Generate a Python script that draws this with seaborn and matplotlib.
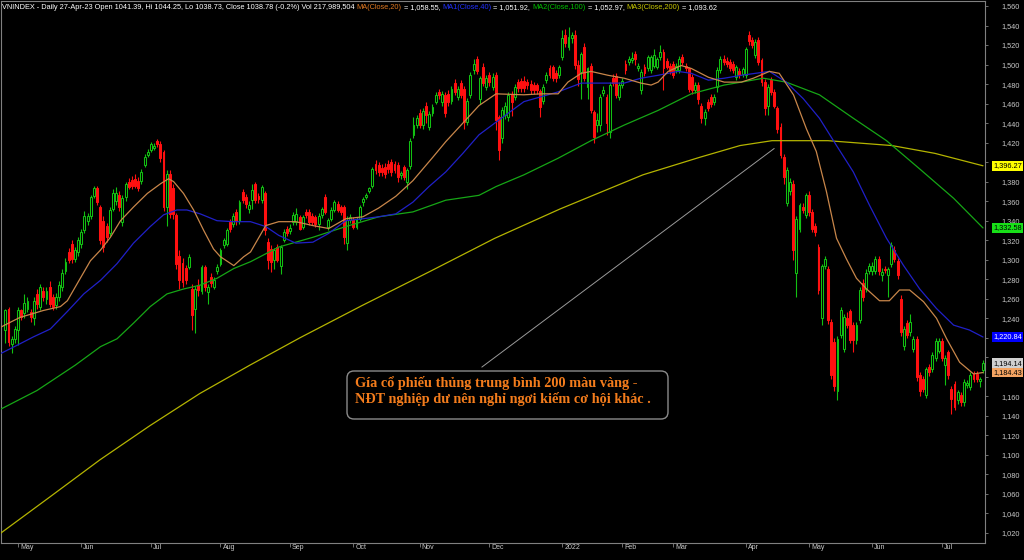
import matplotlib
matplotlib.use("Agg")
import matplotlib.pyplot as plt
import matplotlib.patches as mpatches
import matplotlib.transforms as mtransforms
import numpy as np
import pandas as pd
import seaborn as sns

# daily candles, late Apr 2021 -> Jul 2022 (one line per month)
opens = [
    1228, 1250, 1214, 1219,
    1228, 1248, 1245, 1250, 1246, 1240, 1265, 1252, 1268, 1260, 1272, 1262, 1254, 1262, 1272, 1288, 1308, 1316, 1301, 1308,
    1316, 1330, 1340, 1345, 1365, 1374, 1354, 1340, 1335, 1327, 1352, 1360, 1366, 1339, 1364, 1380, 1382, 1383, 1381, 1381, 1397, 1407,
    1412, 1414, 1422, 1419, 1410, 1354, 1388, 1373, 1346, 1304, 1297, 1292, 1293, 1270, 1250, 1274, 1268, 1293, 1267, 1282, 1272, 1288,
    1296, 1315, 1316, 1339, 1337, 1349, 1340, 1369, 1364, 1352, 1361, 1378, 1365, 1361, 1368, 1318, 1311, 1300, 1313, 1294, 1320, 1332,
    1329, 1339, 1339, 1344, 1334, 1349, 1349, 1345, 1344, 1337, 1346, 1364, 1334, 1342, 1351, 1357, 1354, 1354, 1317, 1341,
    1341, 1334, 1342, 1359, 1364, 1370, 1376, 1398, 1397, 1394, 1395, 1398, 1400, 1398, 1397, 1387, 1395, 1380, 1396, 1428, 1438,
    1450, 1438, 1458, 1436, 1450, 1462, 1472, 1462, 1469, 1470, 1463, 1481, 1467, 1481, 1475, 1441, 1469, 1494, 1506, 1465, 1498, 1477,
    1489, 1477, 1489, 1446, 1425, 1448, 1446, 1470, 1467, 1482, 1483, 1483, 1482, 1480, 1479, 1479, 1473, 1463, 1484, 1496, 1498, 1491, 1489,
    1508, 1530, 1518, 1527, 1530, 1500, 1492, 1518, 1477, 1499, 1451, 1438, 1438, 1471, 1467, 1431, 1486, 1488, 1467,
    1479, 1501, 1503, 1505, 1511, 1496, 1474, 1498, 1496, 1494, 1499, 1498, 1508, 1513, 1504, 1499,
    1501, 1494, 1494, 1508, 1499, 1496, 1487, 1474, 1479, 1458, 1445, 1462, 1467, 1462, 1477, 1494, 1506, 1504, 1503, 1501, 1487, 1493, 1490,
    1489, 1530, 1525, 1510, 1525, 1505, 1482, 1458, 1484, 1472, 1455, 1436, 1405, 1358, 1370, 1378, 1286, 1332, 1354, 1346,
    1366, 1349, 1335, 1313, 1240, 1294, 1291, 1236, 1216, 1165, 1223, 1209, 1240, 1247, 1233, 1218, 1238, 1276, 1270, 1288,
    1288, 1288, 1301, 1284, 1291, 1284, 1296, 1310, 1299, 1260, 1212, 1235, 1226, 1209, 1219, 1182, 1178, 1161, 1190, 1188, 1199, 1207,
    1217, 1192, 1205, 1168, 1173, 1156, 1161, 1154, 1172, 1170, 1183, 1183, 1176, 1187,
]
highs = [
    1250, 1252, 1222, 1232,
    1252, 1250, 1265, 1262, 1250, 1262, 1270, 1275, 1272, 1272, 1278, 1265, 1266, 1278, 1290, 1302, 1312, 1320, 1313, 1323,
    1331, 1350, 1348, 1366, 1376, 1376, 1356, 1345, 1338, 1354, 1372, 1375, 1370, 1366, 1380, 1384, 1386, 1388, 1385, 1393, 1408, 1413,
    1421, 1420, 1424, 1422, 1412, 1392, 1392, 1378, 1348, 1310, 1302, 1295, 1306, 1275, 1273, 1280, 1295, 1295, 1275, 1286, 1282, 1296,
    1312, 1322, 1333, 1342, 1348, 1352, 1361, 1372, 1367, 1360, 1378, 1380, 1368, 1377, 1370, 1322, 1315, 1312, 1316, 1315, 1331, 1335,
    1337, 1349, 1353, 1346, 1346, 1352, 1352, 1348, 1346, 1348, 1354, 1367, 1343, 1354, 1361, 1360, 1356, 1356, 1345, 1347,
    1344, 1344, 1356, 1364, 1368, 1375, 1395, 1402, 1400, 1398, 1399, 1402, 1403, 1401, 1400, 1391, 1397, 1394, 1425, 1446, 1448,
    1454, 1455, 1462, 1452, 1460, 1472, 1475, 1473, 1472, 1474, 1478, 1485, 1478, 1484, 1478, 1466, 1492, 1506, 1509, 1488, 1502, 1489,
    1492, 1491, 1492, 1448, 1456, 1462, 1472, 1473, 1480, 1485, 1486, 1488, 1485, 1484, 1482, 1481, 1475, 1480, 1492, 1500, 1500, 1494, 1500,
    1535, 1536, 1538, 1533, 1535, 1505, 1513, 1522, 1498, 1502, 1453, 1450, 1470, 1478, 1470, 1482, 1490, 1491, 1482,
    1486, 1505, 1509, 1513, 1514, 1502, 1495, 1501, 1510, 1510, 1516, 1508, 1520, 1516, 1507, 1502,
    1504, 1502, 1509, 1511, 1502, 1498, 1490, 1482, 1482, 1461, 1454, 1465, 1470, 1470, 1497, 1509, 1510, 1508, 1506, 1504, 1500, 1496, 1498,
    1518, 1534, 1528, 1526, 1528, 1507, 1485, 1480, 1487, 1475, 1458, 1440, 1408, 1395, 1384, 1382, 1345, 1358, 1358, 1368,
    1370, 1352, 1338, 1316, 1296, 1304, 1294, 1239, 1220, 1222, 1252, 1244, 1246, 1250, 1236, 1236, 1272, 1280, 1290, 1297,
    1298, 1304, 1304, 1292, 1294, 1293, 1318, 1314, 1302, 1264, 1232, 1238, 1244, 1222, 1222, 1185, 1181, 1190, 1193, 1205, 1220, 1220,
    1220, 1202, 1208, 1171, 1176, 1167, 1164, 1178, 1177, 1185, 1186, 1186, 1180, 1197,
]
lows = [
    1215, 1212, 1204, 1215,
    1213, 1238, 1240, 1246, 1236, 1233, 1250, 1248, 1258, 1255, 1252, 1248, 1250, 1258, 1268, 1285, 1297, 1297, 1298, 1304,
    1312, 1327, 1336, 1342, 1363, 1356, 1316, 1308, 1318, 1324, 1350, 1356, 1350, 1335, 1360, 1372, 1372, 1374, 1370, 1378, 1395, 1405,
    1410, 1412, 1416, 1400, 1350, 1335, 1343, 1342, 1290, 1270, 1272, 1275, 1290, 1228, 1225, 1263, 1265, 1268, 1255, 1272, 1270, 1285,
    1294, 1312, 1314, 1328, 1334, 1336, 1337, 1358, 1353, 1348, 1352, 1358, 1358, 1358, 1325, 1290, 1287, 1290, 1298, 1285, 1318, 1324,
    1326, 1336, 1336, 1330, 1331, 1343, 1336, 1336, 1334, 1330, 1343, 1347, 1330, 1340, 1349, 1349, 1346, 1316, 1310, 1338,
    1331, 1332, 1340, 1355, 1362, 1368, 1374, 1388, 1386, 1386, 1384, 1389, 1386, 1389, 1380, 1383, 1382, 1372, 1393, 1425, 1435,
    1435, 1434, 1440, 1433, 1447, 1460, 1465, 1458, 1446, 1458, 1460, 1469, 1464, 1466, 1434, 1438, 1466, 1490, 1490, 1460, 1478, 1474,
    1478, 1474, 1433, 1402, 1420, 1444, 1442, 1447, 1464, 1472, 1472, 1472, 1475, 1470, 1470, 1470, 1446, 1460, 1481, 1486, 1483, 1482, 1486,
    1505, 1518, 1515, 1522, 1495, 1478, 1465, 1483, 1465, 1450, 1420, 1431, 1432, 1468, 1428, 1425, 1478, 1466, 1464,
    1476, 1490, 1500, 1502, 1500, 1493, 1470, 1488, 1493, 1491, 1496, 1495, 1505, 1474, 1495, 1490,
    1486, 1491, 1491, 1500, 1493, 1472, 1470, 1471, 1460, 1440, 1438, 1452, 1457, 1459, 1472, 1491, 1500, 1498, 1493, 1491, 1484, 1486, 1487,
    1486, 1520, 1517, 1507, 1500, 1478, 1448, 1448, 1469, 1455, 1430, 1404, 1378, 1355, 1366, 1300, 1262, 1328, 1348, 1343,
    1345, 1328, 1324, 1265, 1233, 1290, 1234, 1178, 1166, 1156, 1220, 1205, 1230, 1215, 1205, 1214, 1235, 1258, 1267, 1285,
    1284, 1285, 1284, 1278, 1286, 1262, 1293, 1298, 1280, 1222, 1208, 1220, 1222, 1205, 1176, 1160, 1164, 1158, 1181, 1185, 1196, 1204,
    1196, 1172, 1178, 1142, 1146, 1152, 1150, 1150, 1169, 1167, 1175, 1175, 1170, 1184,
]
closes = [
    1248, 1216, 1219, 1229,
    1248, 1241, 1256, 1258, 1241, 1258, 1255, 1272, 1262, 1268, 1255, 1252, 1262, 1274, 1286, 1298, 1300, 1301, 1310, 1320,
    1328, 1345, 1345, 1364, 1374, 1359, 1320, 1313, 1323, 1351, 1368, 1368, 1354, 1363, 1378, 1375, 1376, 1376, 1374, 1390, 1405, 1410,
    1419, 1417, 1419, 1404, 1354, 1388, 1347, 1347, 1296, 1279, 1277, 1279, 1303, 1243, 1270, 1269, 1293, 1272, 1272, 1276, 1279, 1293,
    1310, 1320, 1330, 1332, 1345, 1340, 1359, 1361, 1357, 1356, 1371, 1361, 1362, 1375, 1330, 1300, 1298, 1310, 1300, 1313, 1328, 1327,
    1333, 1346, 1347, 1332, 1344, 1346, 1339, 1339, 1337, 1345, 1352, 1349, 1341, 1351, 1359, 1351, 1349, 1323, 1341, 1344,
    1334, 1342, 1354, 1362, 1366, 1373, 1393, 1392, 1390, 1390, 1388, 1393, 1390, 1392, 1385, 1389, 1385, 1392, 1422, 1438, 1445,
    1438, 1452, 1448, 1449, 1457, 1469, 1469, 1470, 1450, 1462, 1475, 1472, 1475, 1469, 1441, 1463, 1489, 1501, 1493, 1486, 1481, 1486,
    1482, 1487, 1443, 1412, 1453, 1458, 1469, 1462, 1477, 1476, 1476, 1476, 1479, 1474, 1474, 1474, 1456, 1477, 1489, 1489, 1486, 1486, 1498,
    1527, 1522, 1528, 1530, 1500, 1485, 1511, 1486, 1496, 1453, 1426, 1443, 1467, 1474, 1440, 1479, 1481, 1469, 1479,
    1483, 1494, 1506, 1507, 1506, 1499, 1492, 1491, 1508, 1508, 1510, 1506, 1513, 1496, 1498, 1493,
    1489, 1499, 1506, 1503, 1496, 1475, 1474, 1479, 1465, 1445, 1451, 1455, 1460, 1467, 1494, 1506, 1503, 1501, 1496, 1494, 1498, 1489, 1495,
    1516, 1524, 1520, 1523, 1503, 1482, 1455, 1477, 1472, 1458, 1434, 1407, 1385, 1392, 1380, 1310, 1342, 1356, 1351, 1366,
    1349, 1332, 1328, 1269, 1294, 1301, 1238, 1182, 1171, 1219, 1248, 1241, 1233, 1218, 1218, 1233, 1269, 1262, 1286, 1294,
    1294, 1301, 1288, 1287, 1289, 1291, 1315, 1301, 1284, 1226, 1229, 1223, 1236, 1219, 1180, 1165, 1168, 1188, 1185, 1202, 1217, 1217,
    1199, 1199, 1182, 1157, 1149, 1164, 1154, 1175, 1174, 1182, 1178, 1178, 1178, 1194.14,
]

# exchange holidays (no candle)
holidays = ["2021-04-30", "2021-05-03", "2021-09-02", "2021-09-03", "2022-01-03", "2022-01-31",
            "2022-02-01", "2022-02-02", "2022-02-03", "2022-02-04", "2022-04-11", "2022-05-02", "2022-05-03"]

# moving averages: trading-day index -> value
ma20_day = [-1.4, 1.6, 4.7, 8.9, 12, 17.4, 19.6, 22.8, 26.9, 30.1, 33.2, 36.4, 40.5, 44.9, 49.1, 51.6, 53.2, 56.3,
            59.5, 62.7, 65.8, 68, 72.2, 75.3, 77.5, 82.3, 86.4, 91.8, 97.2, 102.2, 107.6, 113, 118, 123.4, 128.8,
            135.1, 139.2, 144.6, 149.7, 155.1, 163.9, 169.3, 174.7, 177.8, 182, 185.1, 190.5, 195.6, 200.9, 204.1,
            206.3, 209.5, 213.6, 216.8, 222.2, 227.2, 232.6, 236.4, 241.5, 244.6, 249.1, 253.2, 256.3, 259.5, 262.7,
            265.8, 269, 272.2, 276.3, 279.4, 282.6, 285.8, 290.2, 294.3, 297.5, 301.6, 306, 309]
ma20_val = [1231, 1236, 1241, 1245, 1248, 1252, 1258, 1276, 1299, 1310, 1323, 1340, 1354, 1368, 1378, 1383, 1380, 1368,
            1351, 1330, 1311, 1303, 1294, 1303, 1308, 1335, 1339, 1339, 1335, 1332, 1342, 1344, 1353, 1365, 1381,
            1405, 1421, 1440, 1458, 1470, 1469, 1470, 1470, 1482, 1491, 1493, 1489, 1486, 1481, 1479,
            1482, 1493, 1499, 1496, 1487, 1482, 1482, 1486, 1493, 1491, 1469, 1434, 1411, 1370, 1322,
            1301, 1281, 1270, 1258, 1258, 1269, 1269, 1257, 1240, 1219, 1195, 1183, 1184.43]

ma40_day = [-1.4, 4.7, 8.9, 14.2, 19.6, 24.8, 30.1, 35.3, 40.5, 45.8, 50, 54.2, 57.4, 61.6, 66.9, 72.2, 77.5, 82.3,
            86.4, 91.8, 97.2, 102.2, 107.6, 113, 118, 123.4, 128.8, 133.9, 139.2, 144.6, 149.7, 155.1, 163.9, 174.7,
            182, 190.5, 195.6, 200.9, 206.3, 212.6, 216.8, 222.2, 227.2, 232.6, 241.5, 246.8, 252.2, 257.3, 262.7,
            268, 273.1, 278.5, 283.9, 289, 294.3, 299.7, 304.7, 309]
ma40_val = [1204, 1214, 1221, 1229, 1247, 1265, 1279, 1296, 1317, 1334, 1346, 1351, 1351, 1347, 1340, 1339, 1339, 1334,
            1325, 1317, 1318, 1327, 1340, 1342, 1344, 1347, 1359, 1375, 1390, 1409, 1428, 1441, 1462, 1472,
            1481, 1481, 1481, 1486, 1489, 1493, 1491, 1484, 1486, 1489, 1493, 1482, 1465, 1445, 1417,
            1390, 1356, 1322, 1294, 1270, 1250, 1233, 1228, 1220.84]

ma100_day = [-1.4, 10, 22.1, 30.1, 35.3, 40.5, 45.8, 51.1, 56.3, 61.6, 66.9, 72.2, 77.5, 86.4, 97.2, 107.6, 118,
             128.8, 139.2, 149.7, 155.1, 163.9, 174.7, 185.1, 195.6, 206.3, 216.8, 227.2, 232.6, 239.6, 246.8,
             257.3, 268, 278.5, 289, 299.7, 309]
ma100_val = [1147, 1166, 1192, 1211, 1219, 1235, 1252, 1265, 1270, 1274, 1281, 1291, 1298, 1313, 1323, 1334, 1344,
             1349, 1361, 1366, 1375, 1387, 1404, 1422, 1438, 1453, 1470, 1479, 1482, 1486, 1482,
             1469, 1445, 1422, 1393, 1363, 1332.58]

ma200_day = [-1.4, 14.1, 29.9, 45.7, 61.5, 77.3, 93.1, 112.7, 134.2, 154.7, 175.3, 201.5, 219.5, 232.2, 242.3,
             260, 280.2, 293.8, 309]
ma200_val = [1020, 1057, 1095, 1130, 1163, 1192, 1220, 1253, 1288, 1322, 1352, 1387, 1405, 1417, 1422,
             1422, 1417, 1409, 1396.27]

header = [
    ("VNINDEX - Daily 27-Apr-23 Open 1041.39, Hi 1044.25, Lo 1038.73, Close 1038.78 (-0.2%) Vol 217,989,504 ", "white"),
    ("MA(Close,20)", "#e07820"), (" = 1,058.55, ", "white"),
    ("MA1(Close,40)", "#2030ff"), (" = 1,051.92, ", "white"),
    ("MA2(Close,100)", "#00c000"), (" = 1,052.97, ", "white"),
    ("MA3(Close,200)", "#c8c800"), (" = 1,093.62", "white"),
]
note_lines = ["Gía cổ phiếu thủng trung bình 200 màu vàng -",
              "NĐT nghiệp dư nên nghỉ ngơi kiếm cơ hội khác ."]

GREEN, RED = "#12c012", "#ff1010"
C20, C40, C100, C200 = "#c8864a", "#2020c8", "#16a616", "#b4b400"

days = pd.bdate_range("2021-04-26", "2022-07-29")
days = days[~days.isin(pd.to_datetime(holidays))][:len(closes)]
df = pd.DataFrame({"date": days, "open": opens, "high": highs, "low": lows, "close": closes})
df["day"] = np.arange(len(df))
up = df["close"] >= df["open"]

sns.set_theme(style="dark", rc={"axes.facecolor": "black", "figure.facecolor": "black",
                                "axes.grid": False})
plt.rcParams["font.family"] = ["Liberation Sans", "DejaVu Sans"]

fig = plt.figure(figsize=(10.24, 5.6), dpi=100)
W, H = 1024, 560
ax = fig.add_axes([1 / W, 17 / H, 984 / W, 542 / H])
ax.set_facecolor("black")

# candles: wicks, then bodies (green hollow, red filled)
ax.vlines(df["day"], df["low"], df["high"], colors=np.where(up, GREEN, RED), linewidth=0.8, zorder=2)
body = (df["close"] - df["open"]).abs().clip(lower=0.8)
ax.bar(df["day"], body, bottom=df[["open", "close"]].min(axis=1), width=0.6,
       color=np.where(up, "black", RED), edgecolor=np.where(up, GREEN, RED), linewidth=0.75, zorder=3)

for d, v, c in [(ma200_day, ma200_val, C200), (ma100_day, ma100_val, C100),
                (ma40_day, ma40_val, C40), (ma20_day, ma20_val, C20)]:
    sns.lineplot(x=d, y=v, ax=ax, color=c, linewidth=0.9, zorder=4)

ax.set_xlim((1 - 5.34) / 3.164, (985 - 5.34) / 3.164)
ax.set_ylim(1020 - 10 / 0.9759, 1560 + 5 / 0.9759)
for s in ax.spines.values():
    s.set_color("#808080")
    s.set_linewidth(0.8)

# value tags at the right edge
tags = [(ma200_val[-1], "#ffff00", "black"), (ma100_val[-1], "#18e018", "black"),
        (ma40_val[-1], "#0000ff", "white"), (closes[-1], "#d0d0d0", "black"),
        (ma20_val[-1], "#f4a462", "black")]

# price axis on the right; levels sitting under a tag are covered there
yt = np.arange(1020, 1561, 20)
tag_vals = np.array([t[0] for t in tags])
ylabels = ["" if np.abs(tag_vals - v).min() < 7 else f"{v:,}" for v in yt]
ax.yaxis.tick_right()
ax.set_yticks(yt)
ax.set_yticklabels(ylabels, fontsize=5.3, color="#c8c8c8")
ax.tick_params(axis="y", right=True, left=False, length=2.5, width=0.6, color="#808080", pad=22.5)
for lab in ax.get_yticklabels():
    lab.set_horizontalalignment("right")

# month ticks along the bottom
first = df.groupby(df["date"].dt.to_period("M"))["day"].min().iloc[1:]
ax.set_xticks(first.values)
ax.set_xticklabels([])
ax.tick_params(axis="x", bottom=True, length=3, width=0.6, color="#808080", direction="out")
for per, d in first.items():
    lab = str(per.year) if per.month == 1 else per.strftime("%b")
    ax.annotate(lab, xy=(d, 0), xycoords=("data", "axes fraction"), xytext=(2, -1),
                textcoords="offset pixels", ha="left", va="top", fontsize=5, color="#c8c8c8",
                annotation_clip=False)

for v, fc, tc in tags:
    ax.annotate(f"{v:,.2f}", xy=(1, v), xycoords=("axes fraction", "data"), xytext=(8, 0),
                textcoords="offset pixels", ha="left", va="center", fontsize=5.3, color=tc,
                bbox=dict(boxstyle="square,pad=0.18", fc=fc, ec="none"), annotation_clip=False, zorder=6)

# header line, pieces chained left to right
prev = fig.text(2 / W, 1 - 11 / H, header[0][0], color=header[0][1], fontsize=5.3, ha="left", va="bottom")
for s, c in header[1:]:
    prev = ax.annotate(s, xy=(1, 0), xycoords=prev, ha="left", va="bottom", fontsize=5.3, color=c,
                       annotation_clip=False)

# note box with pointer to the 200-day line
fig.add_artist(mpatches.FancyBboxPatch((347, H - 419), 321, 48, boxstyle="round,pad=0,rounding_size=7",
                                       transform=mtransforms.IdentityTransform(),
                                       fc="black", ec="#8a8a8a", lw=1, zorder=5))
for k, line in enumerate(note_lines):
    fig.text(355 / W, 1 - (387.5 + 16 * k) / H, line, color="#f37c1c", fontsize=10.3, fontweight="bold",
             family=["Liberation Serif", "DejaVu Serif"], ha="left", va="baseline", zorder=6)
ax.annotate("", xy=(243, 1414), xytext=(150.6, 1190),
            arrowprops=dict(arrowstyle="-", color="#9a9a9a", lw=0.7, shrinkA=0, shrinkB=0))

fig.savefig("out.png", dpi=100, facecolor="black")
